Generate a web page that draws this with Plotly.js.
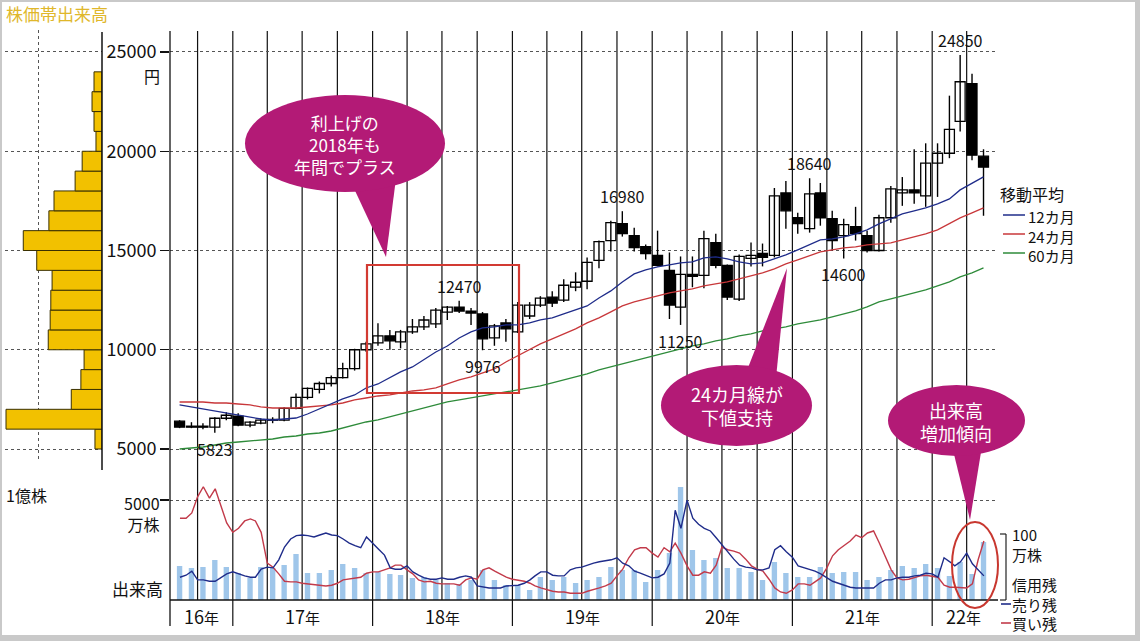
<!DOCTYPE html>
<html><head><meta charset="utf-8">
<script src="https://cdn.plot.ly/plotly-3.0.1.min.js"></script>
<style>html,body{margin:0;padding:0;background:#fff}#chart{width:1140px;height:641px}</style>
</head><body><div id="chart"></div>
<script>
// ---- monthly candles (Aug 2016 - May 2022), 円 ----
const open  = [6400,6100,6150,6100,6550,6650,6200,6300,6450,6450, 7050,7600,8000,8300,8600,9050,10000,10350,10700,10400,
  10900,11150,11300,11900,12150,11950,11800,10600,11350,10900, 11700,12250,12650,12500,13150,13450,14500,15500,16350,15750,
  15200,14750,14000,12150,13800,13750,15400,14250,12550,14600, 14850,14750,17900,16650,16100,17900,16600,15750,16200,15750,
  15000,16650,17900,18050,17750,19400,19900,21500,23400,19750];
const close = [6100,6150,6100,6550,6700,6200,6350,6450,6480,7050, 7600,8050,8300,8600,9050,10000,10300,10700,10450,10900,
  11150,11500,12000,12150,11950,11850,10550,11200,11050,12250, 12250,12600,12350,13250,13400,14400,15450,16400,15850,15150,
  14850,14250,12250,13800,13700,15600,14250,12650,14700,14750, 14650,17750,17000,16350,17850,16650,15500,16300,15850,15000,
  16650,18100,18050,17900,19400,19900,21100,23500,19800,19200];
const high  = [6450,6350,6300,6600,6850,6800,6400,6550,6600,7100, 7800,8100,8400,8700,9350,10050,10400,11330,11000,11000,
  11550,11700,12100,12200,12470,12100,11900,11300,11550,12400, 12400,12700,12950,13550,13900,14650,15500,16500,16980,16150,
  15300,16000,14900,14700,14700,16000,15850,14300,14800,15400, 15350,18150,18500,16900,18640,18400,17000,16600,17200,16000,
  16800,18250,18700,20100,20400,20400,22800,24850,23900,20100];
const low   = [6050,6050,6000,5823,6450,6150,6100,6250,6300,6400, 7000,7500,7800,8150,8550,8950,9900,10200,10000,10070,
  10800,11000,11100,11500,11850,11250,9976,10200,10400,10850, 11550,12150,12150,12400,12950,13050,14100,14950,15700,14950,
  14550,14200,11550,11250,13150,13100,14100,12500,12450,14200, 14200,14650,16100,15850,15900,16250,15000,14600,15500,14900,
  14950,16400,17250,17350,17200,17700,19650,21000,19550,16750];
// moving averages
const ma12 = [7218,7117,7016,6915,6814,6714,6613,6512,6462,6512,6562,6764,7016,7268,7520,7722,8074,8276,8578,8881,
  9133,9486,9889,10191,10594,10897,11098,11149,11250,11250,11350,11502,11602,11804,12006,12207,12610,12963,13417,13820,
  14022,14173,14274,14374,14425,14626,14677,14576,14425,14324,14374,14576,14778,15030,15282,15534,15584,15685,15836,16038,
  16340,16592,16844,16995,17146,17348,17600,18054,18406,18709];
const ma24 = [7369,7369,7369,7318,7318,7268,7218,7117,7066,7066,7066,7117,7167,7218,7318,7470,7570,7671,7722,7822,
  7923,7974,8074,8276,8478,8629,8830,9032,9385,9687,9990,10292,10544,10796,11048,11350,11602,11905,12207,12409,
  12560,12711,12862,12963,13064,13215,13316,13417,13568,13719,13870,14072,14324,14526,14727,14929,15030,15130,15181,15282,
  15332,15382,15534,15685,15836,16038,16340,16642,16894,17146];
const ma60 = [5000,5050,5101,5202,5302,5353,5403,5454,5504,5605,5655,5756,5806,5907,6058,6210,6361,6462,6613,6764,
  6915,7066,7218,7369,7470,7570,7671,7772,7873,7974,8074,8175,8326,8478,8629,8780,8982,9133,9284,9435,
  9586,9738,9889,10040,10191,10292,10443,10544,10695,10796,10947,11048,11149,11300,11401,11502,11653,11804,11955,12157,
  12409,12560,12711,12862,13014,13215,13417,13669,13870,14122];
// monthly volume, 万株
const volume = [1700,1600,1650,2000,1650,1350,1100,1650,1600,1750, 2300,1350,1350,1500,1800,1600,1350,1400,1300,1250,
  1100,1150,1000,850,800,1000,1500,1000,750,750, 500,1150,1000,1150,850,1000,1150,1650,1500,1500,
  900,1500,2350,5650,2500,2000,2100,1600,1600,1400, 1000,1900,1350,1150,1150,1650,1350,1400,1400,1000,
  1150,1500,1700,1600,1800,1600,1200,1900,1300,2900];
// margin balances, half-monthly, 万株
const marginBuy = [122,122,130,154,169,152,166,142,115,101, 107,118,121,118,101,55,49,39,28,27,
  27,25,24,22,21,21,22,25,30,31, 33,34,40,42,42,45,48,52,52,45, 39,30,27,28,25,24,24,24,22,30,
  33,31,45,48,43,39,34,31,30,28, 25,21,18,15,13,12,12,10,10,10, 13,15,18,21,25,36,46,63,75,78,
  78,70,64,78,72,85,70,51,37,37, 42,40,52,79,75,73,70,61,51,46, 43,31,18,12,10,15,24,24,22,27,
  33,48,66,75,81,88,97,93,100,103, 85,63,45,33,30,31,34,36,37,36, 34,22,19,19,19,18,24,60,88];
const marginSell = [34,37,43,30,30,28,28,34,39,42, 39,36,34,34,46,49,48,60,79,91,
  96,97,96,94,97,100,97,96,91,85, 81,78,94,84,76,67,48,46,46,51, 42,37,33,31,31,33,31,31,34,36,
  34,21,19,18,18,18,21,22,22,25, 30,36,42,42,37,36,36,45,48,49, 52,55,57,58,60,63,55,51,43,40,
  37,33,34,39,55,134,107,149,122,113, 107,103,93,82,72,61,52,49,48,45, 45,48,75,81,72,64,51,48,46,43,
  39,33,28,25,22,19,18,18,18,18, 25,30,30,33,34,34,36,37,40,39, 34,63,57,51,57,70,54,45,36];
// price-band volume (株価帯出来高): band centres 円, volume 億株
const profileBands = [5500,6500,7500,8500,9500,10500,11500,12500,13500,14500,15500,16500,17500,18500,19500,20500,21500,22500,23500];
const profileVol   = [0.11,1.5,0.48,0.33,0.28,0.84,0.81,0.80,0.78,1.02,1.23,0.83,0.75,0.42,0.31,0.094,0.125,0.156,0.125];
const priceTicks = [5000,10000,15000,20000,25000];
const volumeTicks = [5000];
const yearLabels = ['16','17','18','19','20','21','22'];
const peaks = [
  {month:'2016-11', kind:'low'}, {month:'2018-08', kind:'high'}, {month:'2018-10', kind:'low'},
  {month:'2019-10', kind:'high'}, {month:'2020-03', kind:'low'}, {month:'2021-02', kind:'high'},
  {month:'2021-05', kind:'low'}, {month:'2022-03', kind:'high'}];

// ---------------------------------------------------------------
const W = 1140, H = 641;
const X = v => v / W, Y = v => 1 - v / H;
const DAY = 864e5;
const FONT = 'Noto Sans CJK JP, sans-serif';
const MAGENTA = '#b31a76';
function monthStr(i){ const t = 2016*12 + 7 + i; const y = Math.floor(t/12), m = t%12 + 1; return y + '-' + String(m).padStart(2,'0'); }
const months = open.map((_, i) => monthStr(i));
const mid = months.map(m => m + '-15');
const halfDates = marginBuy.map((_, k) => k % 2 === 0 ? monthStr(k/2) + '-16' : monthStr((k+1)/2) + '-01');

const wx = [], wy = [];
mid.forEach((d, i) => { wx.push(d, d, null); wy.push(low[i], high[i], null); });

const traces = [
  {type:'bar', orientation:'h', x:profileVol, y:profileBands, xaxis:'x3', yaxis:'y3', width:1000,
   marker:{color:'#f2c100', line:{color:'#3a3000', width:1}}, hoverinfo:'skip'},
  {type:'bar', x:mid, y:volume, xaxis:'x', yaxis:'y2', width:14*DAY,
   marker:{color:'#9fc6ea', line:{width:0}}, hoverinfo:'skip'},
  {type:'scatter', mode:'lines', x:halfDates, y:marginBuy, xaxis:'x', yaxis:'y4', line:{color:'#c23a4a', width:1.4}},
  {type:'scatter', mode:'lines', x:halfDates, y:marginSell, xaxis:'x', yaxis:'y4', line:{color:'#1f2c8a', width:1.4}},
  {type:'scatter', mode:'lines', x:wx, y:wy, xaxis:'x', yaxis:'y', line:{color:'#000', width:1.4}, connectgaps:false},
  {type:'bar', x:mid, y:open.map((o,i)=>Math.max(Math.abs(close[i]-o), 40)),
   base:open.map((o,i)=>Math.min(o, close[i])), xaxis:'x', yaxis:'y', width:26*DAY,
   marker:{color:open.map((o,i)=> close[i] >= o ? '#ffffff' : '#000000'), line:{color:'#000', width:1.3}}},
  {type:'scatter', mode:'lines', x:mid, y:ma60, line:{color:'#2e8b3a', width:1.3}},
  {type:'scatter', mode:'lines', x:mid, y:ma24, line:{color:'#c8373a', width:1.3}},
  {type:'scatter', mode:'lines', x:mid, y:ma12, line:{color:'#1f2c8a', width:1.3}}
];

const shapes = [];
function L(x0,y0,x1,y1,color,width,dash){ shapes.push({type:'line', xref:'paper', yref:'paper', x0:X(x0), y0:Y(y0), x1:X(x1), y1:Y(y1), line:{color, width, dash:dash||'solid'}}); }
// quarter / year lines
for (let t = 2016*12 + 9; t <= 2022*12 + 3; t += 3) {
  const y = Math.floor(t/12), m = t%12 + 1;
  const d = y + '-' + String(m).padStart(2,'0') + '-01';
  shapes.push({type:'line', xref:'x', yref:'paper', x0:d, x1:d, y0:Y(m === 1 ? 626 : 600), y1:Y(31),
    line:{color:'#111', width:1.2}, layer:'below'});
}
L(170, 626, 170, 31, '#111', 1.3);       // left border of chart
L(170, 600, 998, 600, '#111', 1.3);      // bottom axis line
L(102, 470, 102, 32, '#111', 1.5);       // profile axis
// red highlight box & ellipse
shapes.push({type:'rect', xref:'paper', yref:'paper', x0:X(367), x1:X(519), y0:Y(393), y1:Y(265), line:{color:'#d23a32', width:2.2}});
shapes.push({type:'circle', xref:'paper', yref:'paper', x0:X(952), x1:X(998), y0:Y(608), y1:Y(522), line:{color:'#c8372f', width:2}});
// speech bubbles
function bubble(x0,y0,x1,y1){ shapes.push({type:'circle', xref:'paper', yref:'paper', x0:X(x0), x1:X(x1), y0:Y(y1), y1:Y(y0), fillcolor:MAGENTA, line:{width:0}}); }
function tail(pts){ shapes.push({type:'path', xref:'paper', yref:'paper', path:'M' + pts.map(p => X(p[0]) + ',' + Y(p[1])).join(' L') + ' Z', fillcolor:MAGENTA, line:{width:0}}); }
tail([[350,180],[386,257],[396,178]]);
bubble(245,95,445,192);
tail([[744,378],[787,268],[776,378]]);
bubble(661,365,812,446);
tail([[952,446],[970,520],[982,446]]);
bubble(888,385,1025,456);
// legend lines
L(1003,215,1025,215,'#1f2c8a',1.5);
L(1003,234,1025,234,'#c8373a',1.5);
L(1003,253,1025,253,'#2e8b3a',1.5);
// bracket for margin scale
L(1000,534,1006,534,'#222',1.2); L(1006,534,1006,600,'#222',1.2); L(1000,600,1006,600,'#222',1.2);
L(1001,604,1011,604,'#1f2c8a',1.6);
L(1001,623,1011,623,'#c23a4a',1.6);
// photo frame
shapes.push({type:'rect', xref:'paper', yref:'paper', x0:0, x1:1, y0:0, y1:1, line:{color:'#c9c9c9', width:4}});
shapes.push({type:'rect', xref:'paper', yref:'paper', x0:X(1135), x1:1, y0:0, y1:1, fillcolor:'#c9c9c9', line:{width:0}});
shapes.push({type:'rect', xref:'paper', yref:'paper', x0:0, x1:1, y0:0, y1:Y(635), fillcolor:'#c9c9c9', line:{width:0}});

const ann = [];
function T(text, x, y, opt){ ann.push(Object.assign({text, xref:'paper', yref:'paper', x:X(x), y:Y(y), showarrow:false,
  xanchor:'left', yanchor:'middle', font:{family:FONT, size:17, color:'#111'}}, opt||{})); }
const small = {family:FONT, size:15, color:'#111'};
T('株価帯出来高', 4, 14, {font:{family:FONT, size:17, color:'#e0b72a'}});
T('円', 162, 76, {xanchor:'right', font:{family:FONT, size:16, color:'#111'}});
T('1億株', 4, 495, {font:{family:FONT, size:16, color:'#111'}});
T('5000<br>万株', 162, 489, {xanchor:'right', yanchor:'top', align:'right', font:{family:FONT, size:16, color:'#111'}});
T('出来高', 165, 588, {xanchor:'right'});
T('移動平均', 998, 194, {font:{family:FONT, size:16, color:'#111'}});
T('12カ月<br>24カ月<br>60カ月', 1026, 236, {font:small, align:'left'});
T('100<br>万株', 1010, 544, {font:small, align:'left'});
T('信用残<br>売り残<br>買い残', 1010, 604, {font:small, align:'left'});
T('利上げの<br>2018年も<br>年間でプラス', 345, 145, {xanchor:'center', font:{family:FONT, size:17, color:'#fff'}});
T('24カ月線が<br>下値支持', 737, 405, {xanchor:'center', font:{family:FONT, size:18, color:'#fff'}});
T('出来高<br>増加傾向', 956, 421, {xanchor:'center', font:{family:FONT, size:18, color:'#fff'}});
// year labels (centred on the visible part of each year)
const xr = ['2016-07-21', '2022-06-14'];
yearLabels.forEach(yy => {
  const y = 2000 + Number(yy);
  let a = Date.parse(y + '-01-01'), b = Date.parse((y+1) + '-01-01');
  a = Math.max(a, Date.parse(xr[0])); b = Math.min(b, Date.parse(xr[1]));
  ann.push({text: yy + '<span style="font-size:15px">年</span>', xref:'x', yref:'paper', x:new Date((a+b)/2).toISOString().slice(0,10),
    y:Y(616), showarrow:false, xanchor:'center', yanchor:'middle', font:{family:FONT, size:18, color:'#111'}});
});
// high / low value labels
peaks.forEach(p => {
  const i = months.indexOf(p.month);
  const v = p.kind === 'high' ? high[i] : low[i];
  ann.push({text:String(v), xref:'x', yref:'y', x:mid[i], y:v, yshift: p.kind === 'high' ? 15 : -16,
    showarrow:false, xanchor:'center', yanchor:'middle', font:{family:FONT, size:16, color:'#111'}});
});

const dotGrid = {showgrid:true, gridcolor:'#555', griddash:'dot', gridwidth:1};
const layout = {
  width:W, height:H, margin:{l:0, r:0, t:0, b:0}, paper_bgcolor:'#fff', plot_bgcolor:'rgba(0,0,0,0)',
  showlegend:false, barmode:'overlay', font:{family:FONT, size:17, color:'#111'},
  xaxis:{domain:[X(170), X(995)], type:'date', range:xr, anchor:'y2', showticklabels:false, showgrid:false,
    zeroline:false, showline:false, ticks:''},
  yaxis:Object.assign({domain:[Y(460), Y(30)], range:[4446, 26108], anchor:'x', tickvals:priceTicks,
    ticktext:priceTicks.map(String), ticks:'outside', ticklen:9, tickcolor:'#111', tickwidth:1.2, zeroline:false, showline:false,
    tickfont:{family:FONT, size:18, color:'#111'}}, dotGrid),
  yaxis2:Object.assign({domain:[Y(600), Y(482)], range:[0, 5900], anchor:'x', tickvals:volumeTicks,
    showticklabels:false, ticks:'outside', ticklen:9, tickcolor:'#111', tickwidth:1.2, zeroline:false, showline:false}, dotGrid),
  yaxis4:{domain:[Y(600), Y(482)], range:[0, 176.1], overlaying:'y2', anchor:'x', visible:false},
  xaxis3:Object.assign({domain:[X(5), X(102)], range:[97/64, 0], anchor:'y3', tickvals:[1], showticklabels:false,
    ticks:'', zeroline:false, showline:false}, dotGrid),
  yaxis3:Object.assign({domain:[Y(460), Y(30)], range:[4446, 26108], anchor:'x3', tickvals:priceTicks,
    showticklabels:false, ticks:'', zeroline:false, showline:false}, dotGrid),
  shapes, annotations:ann
};
Plotly.newPlot('chart', traces, layout, {displayModeBar:false, staticPlot:true});
</script></body></html>
